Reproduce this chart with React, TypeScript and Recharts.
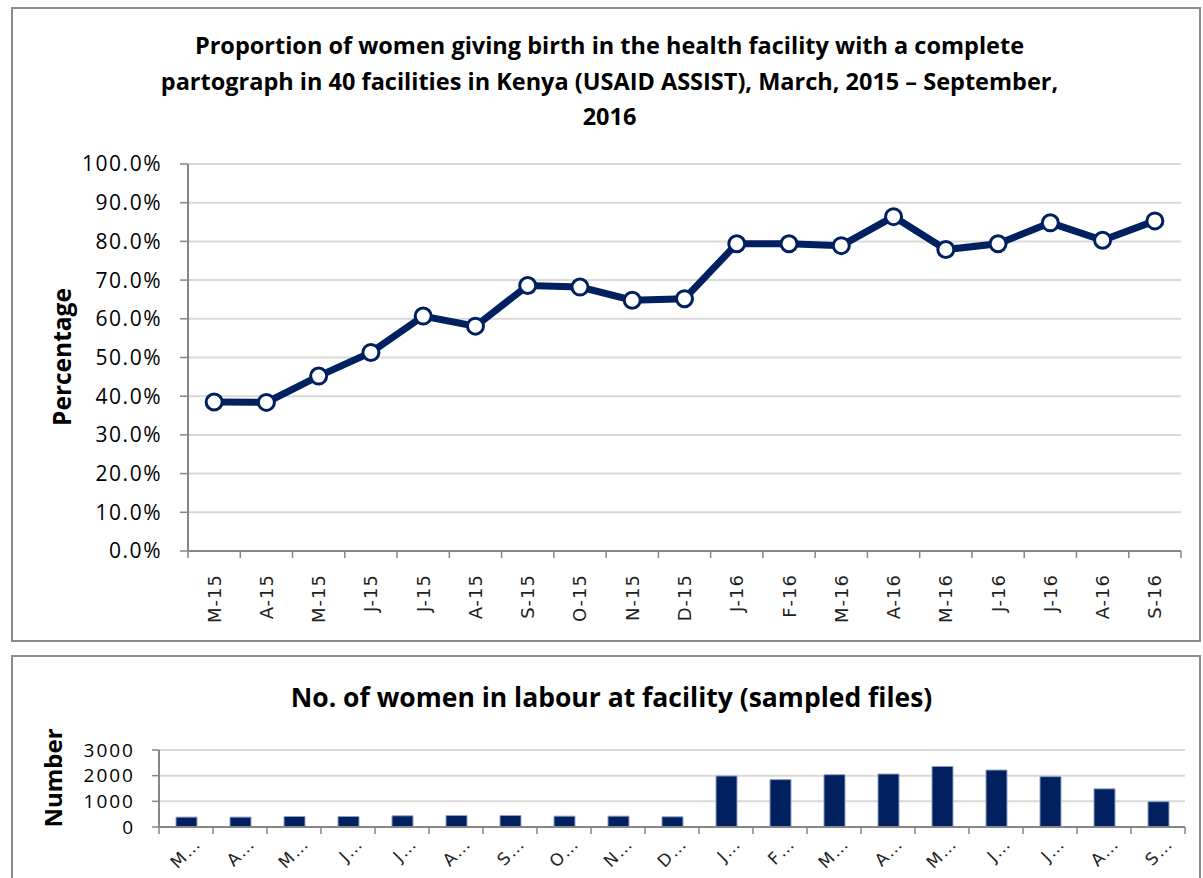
import React from 'react';
import { LineChart, Line, BarChart, Bar, XAxis, YAxis, CartesianGrid } from 'recharts';

// Month labels, March 2015 – September 2016
const months = ['M-15', 'A-15', 'M-15', 'J-15', 'J-15', 'A-15', 'S-15', 'O-15', 'N-15', 'D-15',
  'J-16', 'F-16', 'M-16', 'A-16', 'M-16', 'J-16', 'J-16', 'A-16', 'S-16'];

// % of women with a complete partograph
const completePct = [38.5, 38.4, 45.2, 51.3, 60.7, 58.1, 68.6, 68.2, 64.8, 65.2,
  79.4, 79.4, 78.9, 86.4, 77.9, 79.4, 84.8, 80.3, 85.3];

// number of women in labour (sampled files)
const womenInLabour = [385, 385, 410, 410, 436, 449, 449, 423, 423, 397,
  1987, 1846, 2038, 2064, 2359, 2218, 1962, 1487, 987];

const pctTicks = [0, 10, 20, 30, 40, 50, 60, 70, 80, 90, 100];
const numTicks = [0, 1000, 2000, 3000];

const NAVY = '#002060';
const AXIS = '#868686';
const GRID = '#d9d9d9';
const FONT = '"Open Sans", sans-serif';

const W = 1203;
const TOP_LEFT = 188;
const TOP_RIGHT = 22;
const BOT_LEFT = 159;
const BOT_RIGHT = 18;

const topData = months.map((m, i) => ({ month: m, pct: completePct[i] }));
const botData = months.map((m, i) => ({ month: m[0] + '\u2026', n: womenInLabour[i] }));

const topBand = (W - TOP_RIGHT - TOP_LEFT) / months.length;
const botBand = (W - BOT_RIGHT - BOT_LEFT) / months.length;

const TopTick = (props: any) => {
  const { x, y, payload, index } = props;
  const half = topBand / 2;
  const ty = y + 23;
  return (
    <g>
      <line x1={x - half} y1={y} x2={x - half} y2={y + 7} stroke={AXIS} strokeWidth={1.5} />
      {index === months.length - 1 && (
        <line x1={x + half} y1={y} x2={x + half} y2={y + 7} stroke={AXIS} strokeWidth={1.5} />
      )}
      <text x={x} y={ty} transform={`rotate(-90 ${x} ${ty})`} textAnchor="end" dominantBaseline="central"
        fontFamily='"DejaVu Sans", sans-serif' fontSize={18} letterSpacing={1} fill="#222">
        {payload.value}
      </text>
    </g>
  );
};

const BotTick = (props: any) => {
  const { x, y, payload, index } = props;
  const half = botBand / 2;
  const tx = x + 16;
  const ty = y + 18;
  return (
    <g>
      <line x1={x - half} y1={y} x2={x - half} y2={y + 7} stroke={AXIS} strokeWidth={1.5} />
      {index === months.length - 1 && (
        <line x1={x + half} y1={y} x2={x + half} y2={y + 7} stroke={AXIS} strokeWidth={1.5} />
      )}
      <text x={tx} y={ty} transform={`rotate(-45 ${tx} ${ty})`} textAnchor="end"
        fontFamily='"DejaVu Sans", sans-serif' fontSize={17} letterSpacing={1.5} fill="#222">
        {payload.value}
      </text>
    </g>
  );
};

const boxStyle: React.CSSProperties = {
  position: 'absolute',
  left: 11,
  width: 1190,
  border: '2px solid #8c8c8c',
  boxSizing: 'border-box',
  background: '#fff',
};

const titleStyle: React.CSSProperties = {
  position: 'absolute',
  left: 0,
  width: W,
  textAlign: 'center',
  fontFamily: FONT,
  fontWeight: 700,
  color: '#000',
};

// rotated axis title, centred on (cx, cy)
const axisTitle = (text: string, cx: number, cy: number, size: number) => (
  <div style={{
    position: 'absolute', left: cx - 100, top: cy - 20, width: 200, height: 40,
    lineHeight: '40px', textAlign: 'center', transform: 'rotate(-90deg)',
    fontFamily: FONT, fontWeight: 700, fontSize: size, color: '#000', whiteSpace: 'nowrap',
  }}>{text}</div>
);

export default function App() {
  return (
    <div style={{ position: 'absolute', left: 0, top: 0, width: W, height: 878, overflow: 'hidden', background: '#fff' }}>
      <div style={{ ...boxStyle, top: 7, height: 635 }} />
      <div style={{ ...boxStyle, top: 655, height: 260 }} />

      <div style={{ ...titleStyle, left: 8, top: 28, fontSize: 23.5, lineHeight: '35.5px' }}>
        Proportion of women giving birth in the health facility with a complete<br />
        partograph in 40 facilities in Kenya (USAID ASSIST), March, 2015 – September,<br />
        2016
      </div>
      <div style={{ ...titleStyle, left: 10, top: 681, fontSize: 26.5, lineHeight: '32px' }}>
        No. of women in labour at facility (sampled files)
      </div>

      <div style={{ position: 'absolute', left: 0, top: 0 }}>
        <LineChart width={W} height={640} data={topData}
          margin={{ top: 164, right: TOP_RIGHT, bottom: 0, left: 0 }}>
          <CartesianGrid vertical={false} stroke={GRID} strokeWidth={2} />
          <XAxis dataKey="month" interval={0} height={89} tickLine={false} tickSize={0} tickMargin={0}
            padding={{ left: topBand / 2, right: topBand / 2 }}
            axisLine={{ stroke: AXIS, strokeWidth: 2 }} tick={<TopTick />} />
          <YAxis domain={[0, 100]} ticks={pctTicks} width={TOP_LEFT} interval={0}
            tickFormatter={(v: number) => v.toFixed(1) + '%'}
            tickSize={8} tickMargin={18}
            tickLine={{ stroke: AXIS, strokeWidth: 1.5 }}
            axisLine={{ stroke: AXIS, strokeWidth: 2 }}
            tick={{ fill: '#000', fontSize: 21, fontFamily: FONT, letterSpacing: 1.5 }} />
          <Line type="linear" dataKey="pct" stroke={NAVY} strokeWidth={7} isAnimationActive={false}
            dot={{ r: 8, fill: '#fff', stroke: NAVY, strokeWidth: 3 }} activeDot={false} />
        </LineChart>
      </div>
      {axisTitle('Percentage', 62, 357, 24.5)}

      <div style={{ position: 'absolute', left: 0, top: 655 }}>
        <BarChart width={W} height={223} data={botData} barSize={21}
          margin={{ top: 95, right: BOT_RIGHT, bottom: 0, left: 0 }}>
          <CartesianGrid vertical={false} stroke={GRID} strokeWidth={2} />
          <XAxis dataKey="month" interval={0} height={51} tickLine={false} tickSize={0} tickMargin={0}
            axisLine={{ stroke: AXIS, strokeWidth: 2 }} tick={<BotTick />} />
          <YAxis domain={[0, 3000]} ticks={numTicks} width={BOT_LEFT} interval={0}
            tickSize={7} tickMargin={17}
            tickLine={{ stroke: AXIS, strokeWidth: 1.5 }}
            axisLine={{ stroke: AXIS, strokeWidth: 2 }}
            tick={{ fill: '#000', fontSize: 19, fontFamily: FONT, letterSpacing: 2 }} />
          <Bar dataKey="n" fill={NAVY} stroke="#8ea0c4" strokeWidth={1} isAnimationActive={false} />
        </BarChart>
      </div>
      {axisTitle('Number', 53, 778, 24)}
    </div>
  );
}
